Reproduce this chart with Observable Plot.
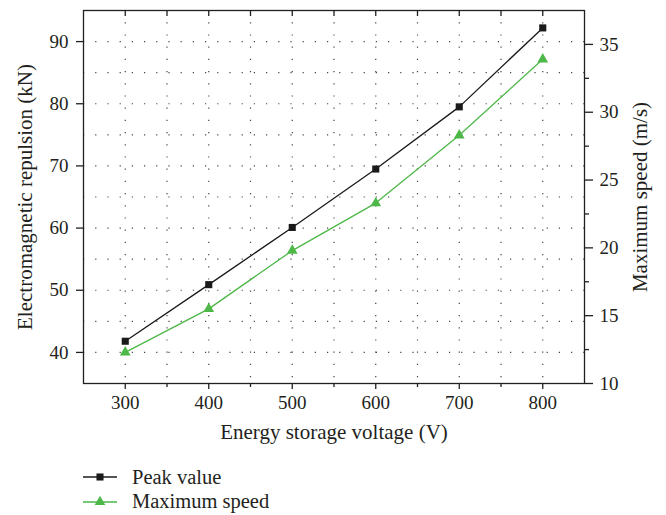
<!DOCTYPE html>
<html>
<head>
<meta charset="utf-8">
<script src="https://cdn.jsdelivr.net/npm/d3@7"></script>
<script src="https://cdn.jsdelivr.net/npm/@observablehq/plot@0.6"></script>
<style>
  html, body { margin: 0; padding: 0; background: #fff; }
  body { width: 666px; height: 515px; overflow: hidden; font-family: "Liberation Serif", "Times New Roman", serif; color: #231f20; }
  #legend { position: relative; height: 65px; }
  .row { position: absolute; left: 0; height: 24px; display: flex; align-items: center; font-size: 20.5px; }
  .row svg { display: block; }
</style>
</head>
<body>
<div id="chart"></div>
<div id="legend"></div>
<script>
// ---- data ----
const voltage = [300, 400, 500, 600, 700, 800];            // Energy storage voltage (V)
const peakValue = [41.8, 50.9, 60.1, 69.5, 79.5, 92.2];     // Electromagnetic repulsion (kN)
const maxSpeed = [12.3, 15.5, 19.8, 23.3, 28.3, 33.9];      // Maximum speed (m/s)
const xTicks = [300, 400, 500, 600, 700, 800];
const yLeftTicks = [40, 50, 60, 70, 80, 90];
const yRightTicks = [10, 15, 20, 25, 30, 35];
const seriesNames = ["Peak value", "Maximum speed"];
const xTitle = "Energy storage voltage (V)";
const yLeftTitle = "Electromagnetic repulsion (kN)";
const yRightTitle = "Maximum speed (m/s)";

// ---- scales ----
const leftDomain = [35, 95];
const rightDomain = [10, 37.5];
const toLeft = v => leftDomain[0] + (v - rightDomain[0]) * (leftDomain[1] - leftDomain[0]) / (rightDomain[1] - rightDomain[0]);
const fromLeft = k => rightDomain[0] + (k - leftDomain[0]) * (rightDomain[1] - rightDomain[0]) / (leftDomain[1] - leftDomain[0]);

const peakData = voltage.map((v, i) => ({v, y: peakValue[i]}));
const speedData = voltage.map((v, i) => ({v, y: toLeft(maxSpeed[i])}));

const black = "#1a1a1a";
const green = "#4db848";
const ink = "#231f20";

const minorX = d3.range(350, 800, 100);
const gridXTicks = d3.range(300, 850, 50);
const gridYTicks = d3.range(40, 95, 5);
const minorRight = d3.range(12.5, 35, 5).map(toLeft);

const chart = Plot.plot({
  width: 666,
  height: 450,
  marginLeft: 83,
  marginRight: 82,
  marginTop: 10,
  marginBottom: 67,
  style: {fontFamily: "Liberation Serif, Times New Roman, serif", fontSize: "19px", color: ink, background: "#fff"},
  x: {domain: [250, 850]},
  y: {domain: leftDomain},
  marks: [
    Plot.gridX(gridXTicks, {stroke: "#444", strokeOpacity: 1, strokeDasharray: "1.2,11", strokeWidth: 1.2}),
    Plot.gridY(gridYTicks, {stroke: "#444", strokeOpacity: 1, strokeDasharray: "1.2,11", strokeWidth: 1.2}),
    Plot.frame({stroke: ink, strokeWidth: 1.3}),
    Plot.axisX(xTicks, {anchor: "bottom", tickSize: 6, tickPadding: 6, stroke: ink, strokeWidth: 1.3, label: null, fontSize: 19}),
    Plot.axisX(minorX, {anchor: "bottom", tickSize: 4, text: null, stroke: ink, strokeWidth: 1.3, label: null}),
    Plot.axisX(gridXTicks, {anchor: "top", tickSize: -5, text: null, stroke: ink, strokeWidth: 1.3, label: null}),
    Plot.axisY(yLeftTicks, {anchor: "left", tickSize: 7, tickPadding: 8, stroke: ink, strokeWidth: 1.3, label: null, fontSize: 19}),
    Plot.axisY(yRightTicks.map(toLeft), {anchor: "right", tickSize: 8, tickPadding: 7, stroke: ink, strokeWidth: 1.3,
      tickFormat: d => String(Math.round(fromLeft(d))), label: null, fontSize: 19}),
    Plot.axisY(minorRight, {anchor: "right", tickSize: 4, text: null, stroke: ink, strokeWidth: 1.3, label: null}),
    Plot.text([xTitle], {frameAnchor: "bottom", dy: 55, fontSize: 21, fill: ink, textAnchor: "middle"}),
    Plot.text([yLeftTitle], {frameAnchor: "left", dx: -58, rotate: -90, fontSize: 21, fill: ink, textAnchor: "middle"}),
    Plot.text([yRightTitle], {frameAnchor: "right", dx: 56, rotate: -90, fontSize: 21, fill: ink, textAnchor: "middle"}),
    Plot.line(peakData, {x: "v", y: "y", stroke: black, strokeWidth: 1.3}),
    Plot.dot(peakData, {x: "v", y: "y", symbol: "square", fill: black, r: 4}),
    Plot.line(speedData, {x: "v", y: "y", stroke: green, strokeWidth: 1.3}),
    Plot.dot(speedData, {x: "v", y: "y", symbol: "triangle", fill: green, r: 4})
  ]
});
document.getElementById("chart").appendChild(chart);

// ---- legend ----
const legend = document.getElementById("legend");
const legendItems = [
  {name: seriesNames[0], color: black, symbol: d3.symbolSquare},
  {name: seriesNames[1], color: green, symbol: d3.symbolTriangle}
];
legendItems.forEach((item, i) => {
  const row = document.createElement("div");
  row.className = "row";
  row.style.top = (15 + i * 24.7) + "px";
  const sw = d3.create("svg").attr("width", 132).attr("height", 24);
  sw.append("line").attr("x1", 83).attr("x2", 117).attr("y1", 12).attr("y2", 12).attr("stroke", item.color).attr("stroke-width", 1.3);
  sw.append("path").attr("d", d3.symbol(item.symbol, 50)()).attr("transform", "translate(100,12)").attr("fill", item.color);
  row.appendChild(sw.node());
  const label = document.createElement("span");
  label.textContent = item.name;
  row.appendChild(label);
  legend.appendChild(row);
});
</script>
</body>
</html>
